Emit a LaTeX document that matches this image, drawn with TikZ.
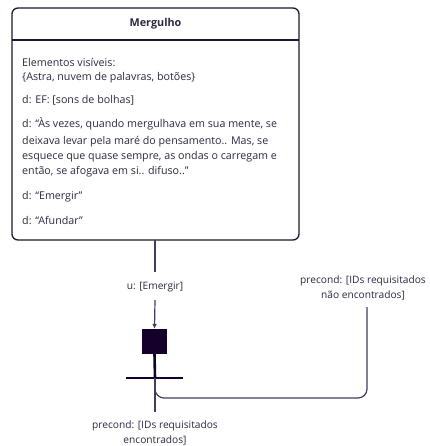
\documentclass[tikz,border=0pt]{standalone}
\usepackage{fontspec}
\setmainfont{Open Sans}
\usetikzlibrary{arrows.meta}
\definecolor{ink}{HTML}{1E1530}
\definecolor{txt}{HTML}{2E2840}
\definecolor{wire}{HTML}{463C5C}
\definecolor{blk}{HTML}{14002A}
\tikzset{
  body/.style={anchor=west,inner sep=0pt,text=txt,font=\fontsize{10.7}{12}\selectfont},
  lbl/.style={inner sep=0pt,text=txt,align=center,font=\fontsize{10.2}{15}\selectfont},
  thin/.style={draw=wire,line width=1.2pt},
  thick/.style={draw=blk,line width=2.6pt},
}
\begin{document}
\begin{tikzpicture}[x=1pt,y=-1pt]
\useasboundingbox (0,0) rectangle (429,446);
% box
\draw[ink,line width=1.3pt,rounded corners=6pt] (12,8) rectangle (299,240);
\draw[ink,line width=1.2pt] (12,40) -- (299,40);
\node[inner sep=0pt,text=txt,font=\fontsize{10.8}{12}\selectfont\bfseries] (title) at (155.5,24) {Mergulho};
\node[body] (l1) at (22,62) {Elementos visíveis:};
\node[body] (l2) at (22,78) {\{Astra, nuvem de palavras, botões\}};
\node[body] (l3) at (22,100) {d: EF: [sons de bolhas]};
\node[body] (l4) at (22,124) {d: “Às vezes, quando mergulhava em sua mente, se};
\node[body] (l5) at (22,142) {deixava levar pela maré do pensamento.. Mas, se};
\node[body] (l6) at (22,157) {esquece que quase sempre, as ondas o carregam e};
\node[body] (l7) at (22,172) {então, se afogava em si.. difuso..”};
\node[body] (l8) at (22,197) {d: “Emergir”};
\node[body] (l9) at (22,220) {d: “Afundar”};
% connectors
\coordinate (boxb) at (155,240);
\coordinate (c1) at (155,272);
\node[lbl] (u) at (155,287) {u: [Emergir]};
\coordinate (c2) at (155,300);
\node[fill=blk,inner sep=0pt,minimum width=25pt,minimum height=25pt] (sq) at (154.5,341.5) {};
\coordinate (barl) at (126,378);
\coordinate (barr) at (183,378);
\coordinate (bar) at (155,378);
\coordinate (c3) at (155,412);
\coordinate (rt) at (367,307);
\draw[thin] (boxb) -- (c1);
\draw[thin,-{Latex[length=5pt,width=5pt]}] (c2) -- (sq.north);
\draw[thick] (sq.south) -- (bar);
\draw[thick] (barl) -- (barr);
\draw[thin] (bar) -- (c3);
\draw[thin,rounded corners=9pt] (bar) |- (367,398) -- (rt);
\node[lbl] (pt) at (363,288) {precond: [IDs requisitados\\não encontrados]};
\node[lbl] (pb) at (155,433) {precond: [IDs requisitados\\encontrados]};
\end{tikzpicture}
\end{document}
